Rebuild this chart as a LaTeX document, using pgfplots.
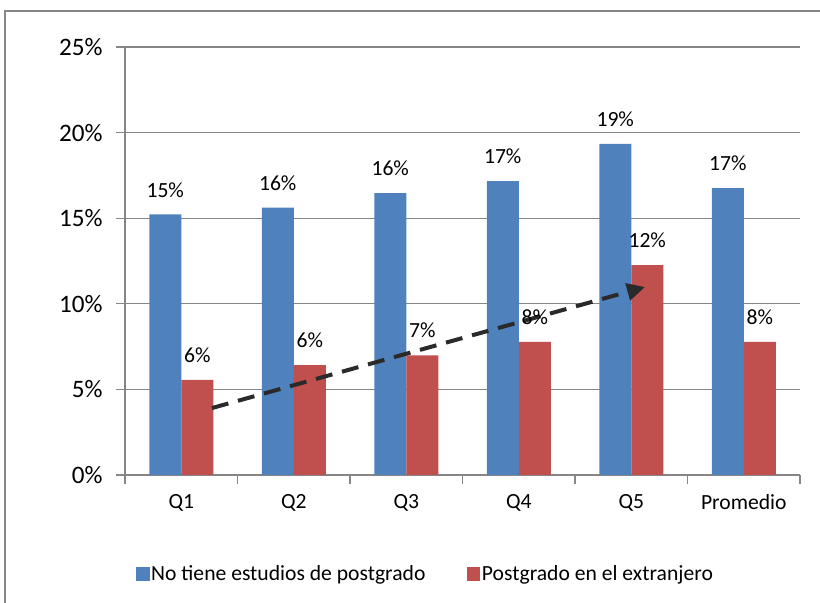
\documentclass[border=0pt]{standalone}
\usepackage{fontspec}
\setmainfont{Carlito}
\usepackage{pgfplots}
\pgfplotsset{compat=1.18}
\usetikzlibrary{arrows.meta}
\definecolor{xblue}{HTML}{4F81BD}
\definecolor{xred}{HTML}{C0504D}
\definecolor{xgrid}{HTML}{868686}
\definecolor{xarrow}{HTML}{2A2A2A}
\begin{document}
\begin{tikzpicture}[x=1bp,y=1bp]
\useasboundingbox (0,0) rectangle (820,603);
\draw[xgrid, line width=1.2bp] (5,0) -- (5,592) -- (820,592);
\begin{axis}[
  at={(125bp,128bp)}, anchor=south west,
  scale only axis, width=675bp, height=428bp,
  xmin=-0.5, xmax=5.5, ymin=0, ymax=25,
  axis lines*=left,
  axis line style={xgrid, line width=1.2bp},
  tick style={xgrid, line width=1.2bp},
  tick align=outside, major tick length=9bp,
  ytick={0,5,...,25},
  yticklabel={\pgfmathprintnumber{\tick}\%},
  /pgf/number format/assume math mode=true,
  yticklabel style={font=\fontsize{25.2}{29}\selectfont, xshift=-10bp},
  ymajorgrids, grid style={xgrid, line width=1.2bp},
  xtick={-0.5,0.5,...,5.5},
  x tick label as interval,
  xticklabels={Q1,Q2,Q3,Q4,Q5,Promedio},
  xticklabel style={font=\fontsize{21.7}{25}\selectfont, yshift=-6.5bp},
  legend style={draw=none, at={(0.0163,-0.231)}, anchor=west,
    font=\fontsize{21.7}{25}\selectfont, inner sep=0pt,
    nodes={inner sep=1.5bp},
    /tikz/every even column/.append style={column sep=40bp}},
  legend columns=2, legend cell align=left,
  legend image code/.code={\fill[#1] (0bp,-6.75bp) rectangle (13.5bp,6.75bp);},
  every node near coord/.append style={font=\fontsize{21.7}{25}\selectfont, inner sep=0pt, anchor=south, yshift=17bp, text=black},
]
\addplot[ybar, bar width=32bp, bar shift=-16bp, fill=xblue, draw=none,
  nodes near coords={\pgfmathprintnumber[fixed,precision=0]{\pgfplotspointmeta}\%},
  every node near coord/.append style={xshift=-16bp}]
  coordinates {(0,15.22) (1,15.62) (2,16.46) (3,17.17) (4,19.34) (5,16.75)};
\addlegendentry{No tiene estudios de postgrado}
\addplot[ybar, bar width=32bp, bar shift=16bp, fill=xred, draw=none,
  nodes near coords={\pgfmathprintnumber[fixed,precision=0]{\pgfplotspointmeta}\%},
  every node near coord/.append style={xshift=16bp}]
  coordinates {(0,5.55) (1,6.42) (2,6.99) (3,7.78) (4,12.26) (5,7.78)};
\addlegendentry{Postgrado en el extranjero}
\addplot[xarrow, line width=4bp, dash pattern=on 17bp off 10bp,
  -{Triangle[length=18bp,width=17bp]}, forget plot]
  coordinates {(0.273,3.91) (4.122,10.98)};
\end{axis}
\end{tikzpicture}
\end{document}
